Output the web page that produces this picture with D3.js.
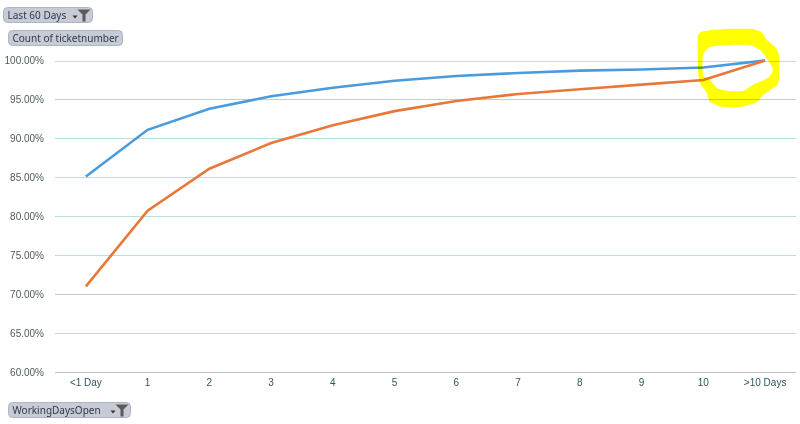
<!DOCTYPE html>
<html>
<head>
<meta charset="utf-8">
<script src="https://cdn.jsdelivr.net/npm/d3@7"></script>
<style>
html, body { margin: 0; padding: 0; background: #fff; }
svg { display: block; font-family: "Noto Sans", sans-serif; }
.tick text { font-size: 10px; }
.btn text { font-size: 10px; fill: #2f3a4a; }
</style>
</head>
<body>
<svg id="chart" width="800" height="424"></svg>
<script>
var categories = ["<1 Day", "1", "2", "3", "4", "5", "6", "7", "8", "9", "10", ">10 Days"];
var seriesBlue = [85.1, 91.1, 93.8, 95.4, 96.5, 97.4, 98.0, 98.4, 98.7, 98.85, 99.1, 100];
var seriesOrange = [71.0, 80.7, 86.1, 89.4, 91.7, 93.5, 94.8, 95.7, 96.3, 96.9, 97.5, 100];
var yTicks = [60, 65, 70, 75, 80, 85, 90, 95, 100];
var gridColors = ["#c0c0c0", "#b8e0dc", "#c4c8c0", "#b8e0dc", "#b8e0dc", "#b8e0dc", "#b8e0dc", "#c4d0c4", "#b4e6e6"];

var svg = d3.select("#chart");

var yScale = d3.scaleLinear().domain([60, 100]).range([372, 60.5]);
var xScale = d3.scaleBand().domain(categories).range([55, 796]);

// gridlines
svg.append("g").selectAll("line").data(yTicks).enter()
    .append("line")
    .attr("x1", 55).attr("x2", 796)
    .attr("y1", function(d){ return Math.round(yScale(d)) + 0.5; })
    .attr("y2", function(d){ return Math.round(yScale(d)) + 0.5; })
    .attr("stroke", function(d,i){ return gridColors[i]; })
    .attr("stroke-width", 1);

var yAxis = svg.append("g")
    .attr("transform", "translate(50,0)")
    .call(d3.axisLeft(yScale).tickValues(yTicks).tickSize(0).tickPadding(6)
        .tickFormat(function(d){ return d.toFixed(2) + "%"; }));
yAxis.select(".domain").remove();
yAxis.selectAll("text").attr("fill", "#4f5b5b");

var xAxis = svg.append("g")
    .attr("transform", "translate(0,375)")
    .call(d3.axisBottom(xScale).tickSize(0).tickPadding(4));
xAxis.select(".domain").remove();
xAxis.selectAll("text").attr("fill", "#2f5560");

// lines
var line = d3.line()
    .x(function(d,i){ return xScale(categories[i]) + xScale.bandwidth() / 2; })
    .y(function(d){ return yScale(d); });

svg.append("path").datum(seriesBlue)
    .attr("d", line).attr("fill", "none")
    .attr("stroke", "#4a9ade").attr("stroke-width", 2.6);
svg.append("path").datum(seriesOrange)
    .attr("d", line).attr("fill", "none")
    .attr("stroke", "#e8783a").attr("stroke-width", 2.6);

// yellow marker scribble on top of the chart, uneven thickness so outer + inner outline
var ringLine = d3.line().curve(d3.curveCardinalClosed.tension(0.4));
var ringOuter = [[698,36],[705,31],[727,29],[753,29],[762,33],[767,40],[775,47],[779,55],[779,77],[777,85],
    [763,95],[757,102],[740,107],[723,107],[710,102],[707,93],[700,83],[698,70]];
var ringInner = [[703,55],[710,47],[727,45],[750,45],[760,50],[768,60],[773,70],[768,78],[753,85],[743,91],
    [727,91],[717,88],[710,80],[703,75]];
svg.append("path")
    .attr("d", ringLine(ringOuter) + ringLine(ringInner))
    .attr("fill", "#ffff00")
    .attr("fill-rule", "evenodd")
    .style("mix-blend-mode", "multiply");

// pivot buttons
function button(x, y, w, label, hasFilter) {
    var g = svg.append("g").attr("class", "btn").attr("transform", "translate(" + x + "," + y + ")");
    g.append("rect").attr("width", w).attr("height", 15).attr("rx", 4)
        .attr("fill", "#c7cbd6").attr("stroke", "#b0b4be");
    g.append("text").attr("x", 4).attr("y", 11.5).text(label);
    if (hasFilter) {
        g.append("path").attr("d", "M" + (w - 15) + " 2h13l-5 5v7h-3v-7z").attr("fill", "#5a5a5a");
        g.append("path").attr("d", "M" + (w - 20) + " 8h5l-2.5 3z").attr("fill", "#333");
    }
}
button(3.5, 7.5, 89, "Last 60 Days", true);
button(8.5, 30.5, 114, "Count of ticketnumber", false);
button(8.5, 402.5, 122, "WorkingDaysOpen", true);
</script>
</body>
</html>
